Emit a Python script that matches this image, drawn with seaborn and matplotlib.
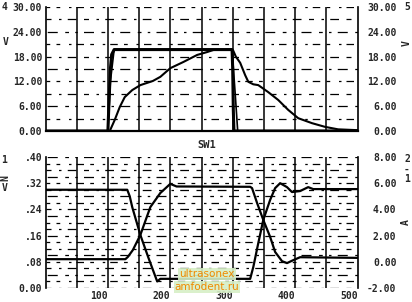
import numpy as np
import pandas as pd
import matplotlib
matplotlib.use("Agg")
import matplotlib.pyplot as plt
import seaborn as sns

# ---------------- data ----------------
# top panel: rectangular pulse (thick), second pulse edge (thin), slow response (thin)
pulse_x = [0, 100, 102, 104, 106, 110, 299, 300, 301, 302, 500]
pulse_y = [0, 0, 8, 15, 18.5, 19.7, 19.7, 15, 5, 0, 0]

pulse2_x = [100, 104, 110, 299, 304, 308, 500]
pulse2_y = [0, 12, 19.7, 19.7, 9, 0, 0]

slow_x = [0, 103, 111, 119, 127, 139, 152, 172, 184, 200, 221, 243, 259, 269, 299,
          301, 305, 312, 320, 325, 333, 341, 357, 373, 389, 405, 427, 448, 469, 500]
slow_y = [0, 0, 2.7, 5.8, 8.2, 9.9, 11.1, 12.1, 13.1, 15.2, 16.7, 18.4, 19.1, 19.6, 19.7,
          19.4, 18.0, 16.5, 13.5, 11.9, 11.3, 11.1, 9.4, 7.5, 5.1, 3.1, 1.9, 1.0, 0.4, 0.2]

# bottom panel: two complementary traces
trA_x = [0, 131, 135, 139, 152, 165, 179, 184, 328, 333, 341, 349, 360, 368, 376, 387,
         395, 408, 421, 429, 500]
trA_y = [0.30, 0.30, 0.28, 0.247, 0.162, 0.092, 0.02, 0.028, 0.028, 0.064, 0.137, 0.208,
         0.269, 0.305, 0.32, 0.308, 0.293, 0.296, 0.308, 0.302, 0.302]

trB_x = [0, 128, 132, 140, 152, 168, 184, 200, 210, 328, 331, 339, 349, 360, 368, 379,
         387, 397, 408, 500]
trB_y = [0.088, 0.088, 0.095, 0.116, 0.162, 0.247, 0.29, 0.318, 0.31, 0.309, 0.305, 0.26,
         0.208, 0.156, 0.11, 0.082, 0.076, 0.085, 0.094, 0.092]

x_ticks = [100, 200, 300, 400, 500]
x_labels = ["100", "200", "300", "400", "500"]
top_ticks = [0, 6, 12, 18, 24, 30]
top_labels = ["0.00", "6.00", "12.00", "18.00", "24.00", "30.00"]
bot_left_ticks = [0, 0.08, 0.16, 0.24, 0.32, 0.40]
bot_left_labels = ["0.00", ".08", ".16", ".24", ".32", ".40"]
bot_right_ticks = [-2, 0, 2, 4, 6, 8]
bot_right_labels = ["-2.00", "0.00", "2.00", "4.00", "6.00", "8.00"]

# ---------------- style ----------------
sns.set_style("white")
plt.rcParams["font.family"] = ["DejaVu Sans Mono", "DejaVu Sans"]
plt.rcParams["font.weight"] = "bold"

W, H = 412, 302
fig = plt.figure(figsize=(W / 100, H / 100), dpi=100)

def frac(l, t, r, b):
    return [l / W, 1 - b / H, (r - l) / W, (b - t) / H]

ax1 = fig.add_axes(frac(45.5, 7, 357.5, 131))
ax3 = fig.add_axes(frac(45.5, 157, 357.5, 288))

dash_patterns = [(0, (4, 6, 2, 5, 7, 6)), (3, (6, 5, 3, 7, 2, 4)), (6, (2, 5, 8, 6, 3, 5))]
FS = 7

def setup(ax, ylo, yhi, ystep):
    ax.set_xlim(0, 500)
    ax.set_ylim(ylo, yhi)
    ax.grid(False)
    for xv in np.arange(50, 500, 50):
        ax.axvline(xv, color="black", lw=1.1, zorder=1)
    for i, yv in enumerate(np.arange(ylo, yhi + ystep / 2, ystep)):
        ax.axhline(yv, color="black", lw=0.9, ls=dash_patterns[i % 3], zorder=1)
    ax.tick_params(length=0)
    for s in ["left", "right"]:
        ax.spines[s].set_visible(True)
        ax.spines[s].set_color("black")
        ax.spines[s].set_linewidth(1.2)
    ax.spines["top"].set_visible(False)

setup(ax1, 0, 30, 3)
setup(ax3, 0, 0.40, 0.02)
ax1.spines["bottom"].set_visible(True)
ax1.spines["bottom"].set_color("black")
ax1.spines["bottom"].set_linewidth(1.6)
ax3.spines["bottom"].set_visible(False)

# lines
sns.lineplot(x=slow_x, y=slow_y, ax=ax1, color="black", lw=1.5,
             estimator=None, sort=False, zorder=3)
sns.lineplot(x=pulse2_x, y=pulse2_y, ax=ax1, color="black", lw=1.2,
             estimator=None, sort=False, zorder=3)
sns.lineplot(x=pulse_x, y=pulse_y, ax=ax1, color="black", lw=2.2,
             estimator=None, sort=False, zorder=4)

sns.lineplot(x=trA_x, y=trA_y, ax=ax3, color="black", lw=1.6,
             estimator=None, sort=False, zorder=3)
sns.lineplot(x=trB_x, y=trB_y, ax=ax3, color="black", lw=1.6,
             estimator=None, sort=False, zorder=3)

# tick labels
ax1.set_xticks(x_ticks)
ax1.set_xticklabels([])
ax1.set_yticks(top_ticks)
ax1.set_yticklabels(top_labels, fontsize=FS, fontweight="bold")
ax1.tick_params(axis="y", pad=2.5, length=0)

ax3.set_xticks(x_ticks)
ax3.set_xticklabels(x_labels, fontsize=FS, fontweight="bold", ha="right")
ax3.tick_params(axis="x", pad=2.5, length=0)
ax3.set_yticks(bot_left_ticks)
ax3.set_yticklabels(bot_left_labels, fontsize=FS, fontweight="bold")
ax3.tick_params(axis="y", pad=2.5, length=0)

for ax in (ax1, ax3):
    ax.set_xlabel("")
    ax.set_ylabel("")

ax2 = ax1.twinx()
ax2.set_ylim(0, 30)
ax2.set_yticks(top_ticks)
ax2.set_yticklabels(top_labels, fontsize=FS, fontweight="bold", ha="right")
ax2.tick_params(length=0, pad=28)

ax4 = ax3.twinx()
ax4.set_ylim(-2, 8)
ax4.set_yticks(bot_right_ticks)
ax4.set_yticklabels(bot_right_labels, fontsize=FS, fontweight="bold", ha="right")
ax4.tick_params(length=0, pad=28)

for ax in (ax2, ax4):
    for s in ax.spines.values():
        s.set_visible(False)
    ax.grid(False)

# channel annotations
def ftxt(px, py, s, size=FS, **kw):
    fig.text(px / W, 1 - py / H, s, fontsize=size, fontweight="bold",
             ha="center", va="center", **kw)

ftxt(5, 7, "4")
ftxt(6, 42, "V")
ftxt(407, 7, "5")
ftxt(407, 43, "V", rotation=90)
ftxt(4, 160, "1")
ftxt(5, 178, "N", rotation=90)
ftxt(5, 188, "V")
ftxt(407, 159, "2")
ftxt(407, 170, "-")
ftxt(407, 179, "1")
ftxt(406, 222, "A", rotation=90)
ftxt(207, 145, "SW1", size=7.5)

# watermark
fig.text(207 / W, 1 - 274 / H, "ultrasonex", fontsize=7.5, color="#f08a00",
         ha="center", va="center", family="DejaVu Sans", fontweight="normal",
         bbox=dict(boxstyle="square,pad=0.1", fc="#d6efc6", ec="none", alpha=0.9))
fig.text(207 / W, 1 - 287 / H, "amfodent.ru", fontsize=7.5, color="#f08a00",
         ha="center", va="center", family="DejaVu Sans", fontweight="normal",
         bbox=dict(boxstyle="square,pad=0.1", fc="#d6efc6", ec="none", alpha=0.9))

fig.savefig("out.png", dpi=100, facecolor="white")
